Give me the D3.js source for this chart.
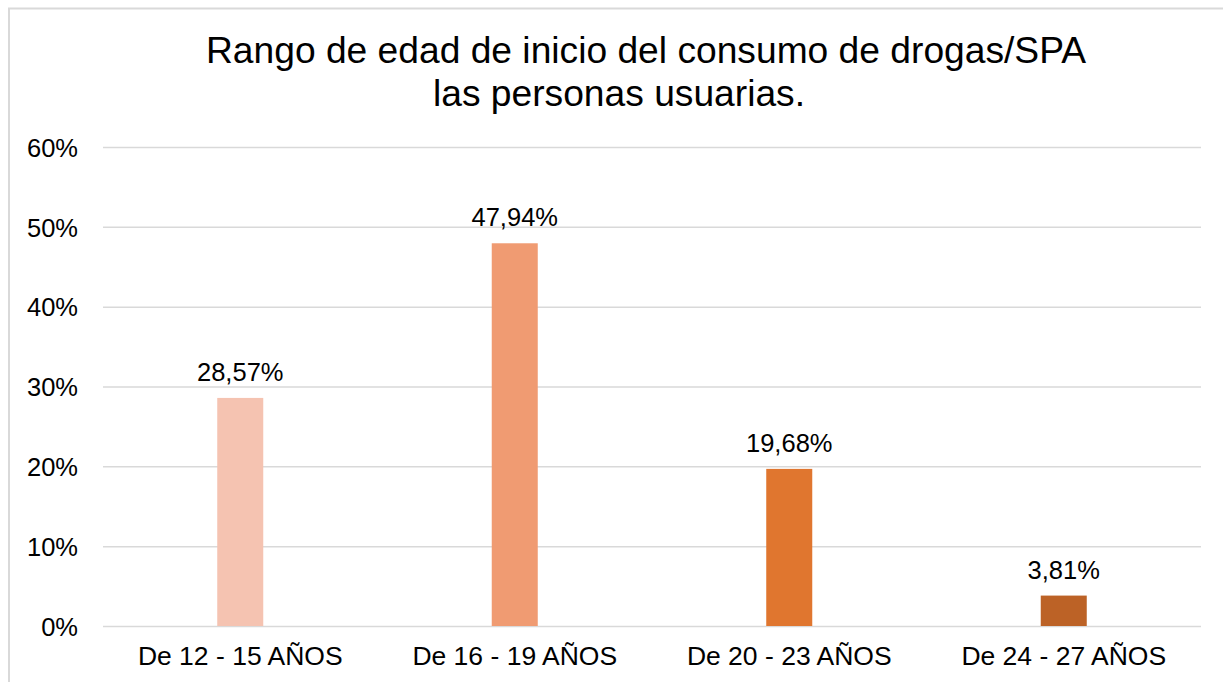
<!DOCTYPE html>
<html>
<head>
<meta charset="utf-8">
<script src="https://cdn.jsdelivr.net/npm/d3@7"></script>
<style>
  html, body { margin: 0; padding: 0; background: #ffffff; }
  svg { display: block; font-family: "Liberation Sans", Arial, sans-serif; }
</style>
</head>
<body>
<svg id="chart" width="1223" height="682"></svg>
<script>
const titleLines = ["Rango de edad de inicio del consumo de drogas/SPA", "las personas usuarias."];
const categories = ["De 12 - 15 AÑOS", "De 16 - 19 AÑOS", "De 20 - 23 AÑOS", "De 24 - 27 AÑOS"];
const values = [28.57, 47.94, 19.68, 3.81];
const valueLabels = ["28,57%", "47,94%", "19,68%", "3,81%"];
const barColors = ["#F5C3B1", "#F09B72", "#E0762F", "#BC6226"];
const yTicks = [0, 10, 20, 30, 40, 50, 60];

const svg = d3.select("#chart");

// chart border
svg.append("rect")
  .attr("x", 9).attr("y", 8.5)
  .attr("width", 1240).attr("height", 700)
  .attr("fill", "none").attr("stroke", "#d9d9d9").attr("stroke-width", 2);

const plot = { left: 103, right: 1201, top: 147, bottom: 626 };

const x = d3.scaleBand().domain(categories).range([plot.left, plot.right]).padding(0);
const y = d3.scaleLinear().domain([0, 60]).range([plot.bottom, plot.top]);

// title
const titleSpecs = [
  { y: 63, cx: 646, len: 880 },
  { y: 106, cx: 619, len: 372 }
];
titleLines.forEach((t, i) => {
  svg.append("text")
    .attr("x", titleSpecs[i].cx).attr("y", titleSpecs[i].y)
    .attr("text-anchor", "middle")
    .attr("font-size", 36)
    .attr("fill", "#000")
    .attr("textLength", titleSpecs[i].len)
    .attr("lengthAdjust", "spacingAndGlyphs")
    .text(t);
});

// gridlines + y tick labels
const yAxis = d3.axisLeft(y).tickValues(yTicks)
  .tickSize(-(plot.right - plot.left))
  .tickPadding(25)
  .tickFormat(d => d + "%");
const gy = svg.append("g").attr("transform", `translate(${plot.left},0)`).call(yAxis);
gy.select(".domain").remove();
gy.selectAll(".tick line").attr("stroke", "#d9d9d9").attr("stroke-width", 1.5);
gy.selectAll(".tick text")
  .attr("font-size", 25.5)
  .attr("fill", "#000")
  .attr("font-family", "Liberation Sans, Arial, sans-serif")
  .attr("dy", "0.36em");

// bars
const barW = x.bandwidth() * 0.1676;
svg.append("g").selectAll("rect")
  .data(values)
  .join("rect")
  .attr("x", (d, i) => x(categories[i]) + x.bandwidth() / 2 - barW / 2)
  .attr("y", d => y(d))
  .attr("width", barW)
  .attr("height", d => y(0) - y(d))
  .attr("fill", (d, i) => barColors[i]);

// data labels
svg.append("g").selectAll("text")
  .data(values)
  .join("text")
  .attr("x", (d, i) => x(categories[i]) + x.bandwidth() / 2)
  .attr("y", d => y(d) - 17)
  .attr("text-anchor", "middle")
  .attr("font-size", 25.5)
  .attr("fill", "#000")
  .text((d, i) => valueLabels[i]);

// x axis labels
const xAxis = d3.axisBottom(x).tickSize(0).tickPadding(0);
const gx = svg.append("g").attr("transform", `translate(0,${plot.bottom})`).call(xAxis);
gx.select(".domain").remove();
gx.selectAll(".tick text")
  .attr("font-size", 26.5)
  .attr("fill", "#000")
  .attr("font-family", "Liberation Sans, Arial, sans-serif")
  .attr("y", 39)
  .attr("dy", 0);
</script>
</body>
</html>
